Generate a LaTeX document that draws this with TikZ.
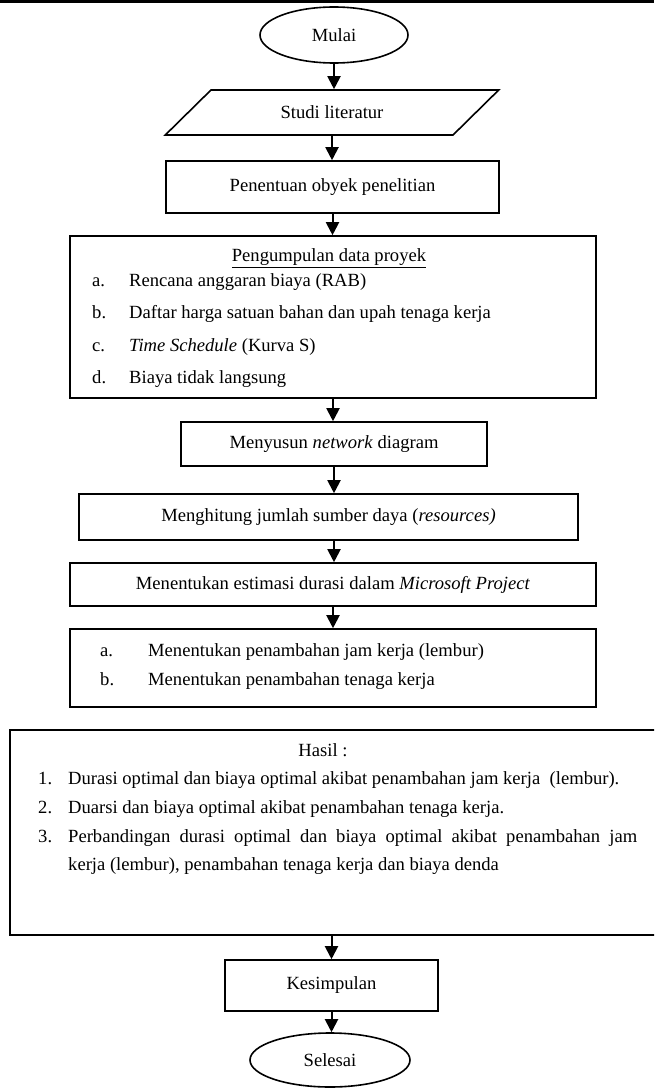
\documentclass[tikz,border=0pt]{standalone}
\usepackage{fontspec}
\setmainfont{Liberation Serif}
\usetikzlibrary{shapes.geometric,arrows.meta,positioning}

\tikzset{
    kotak/.style={draw, rectangle, line width=1.6pt, inner sep=0pt},
    lonjong/.style={draw, ellipse, line width=1.6pt, inner sep=0pt},
    jajar/.style={draw, trapezium, trapezium left angle=34, trapezium right angle=146,
        trapezium stretches=true, line width=1.6pt, inner sep=0pt},
    teks/.style={anchor=west, inner sep=0pt, text height=12pt, text depth=4pt},
    panah/.style={line width=2pt, -{Triangle[width=13pt,length=13pt]}}
}

\begin{document}
\begin{tikzpicture}[x=1pt, y=-1pt, font=\fontsize{18.6}{21}\selectfont]
        %BATAS
        \useasboundingbox (0,0) rectangle (654,1089);
        \clip (0,0) rectangle (654,1089);
        \fill[white] (0,0) rectangle (654,1089);

        %GARIS ATAS
        \fill[black] (0,0) rectangle (654,3.5);

        %MULAI
        \node[lonjong, minimum width=148pt, minimum height=56pt] (mulai) at (334,35) {Mulai};

        %STUDI LITERATUR
        \node[jajar, minimum width=334pt, minimum height=45pt] (studi) at (332,112.5) {Studi literatur};

        %PENENTUAN OBYEK
        \node[kotak, minimum width=333pt, minimum height=52pt] (obyek) at (332.5,187) {Penentuan obyek penelitian};

        %PENGUMPULAN DATA
        \node[kotak, minimum width=526pt, minimum height=162pt] (data) at (333,317) {};
        \node[inner sep=0pt] (judul) at (329,258) {\underline{Pengumpulan data proyek}};
        \node[teks] (da) at (92,282) {a.};
        \node[teks] (dat) at (129,282) {Rencana anggaran biaya (RAB)};
        \node[teks] (db) at (92,314) {b.};
        \node[teks] (dbt) at (129,314) {Daftar harga satuan bahan dan upah tenaga kerja};
        \node[teks] (dc) at (92,347) {c.};
        \node[teks] (dct) at (129,347) {\textit{Time Schedule} (Kurva S)};
        \node[teks] (dd) at (92,379) {d.};
        \node[teks] (ddt) at (129,379) {Biaya tidak langsung};

        %NETWORK
        \node[kotak, minimum width=306pt, minimum height=44pt] (network) at (334,444) {Menyusun \textit{network} diagram};

        %SUMBER DAYA
        \node[kotak, minimum width=499pt, minimum height=46pt] (sumber) at (328.5,517) {Menghitung jumlah sumber daya (\textit{resources)}};

        %ESTIMASI
        \node[kotak, minimum width=526pt, minimum height=43pt] (estimasi) at (333,584.5) {Menentukan estimasi durasi dalam \textit{Microsoft Project}};

        %PENAMBAHAN
        \node[kotak, minimum width=526pt, minimum height=78pt] (tambah) at (333,668) {};
        \node[teks] (ta) at (100,652) {a.};
        \node[teks] (tat) at (148,652) {Menentukan penambahan jam kerja (lembur)};
        \node[teks] (tb) at (100,681) {b.};
        \node[teks] (tbt) at (148,681) {Menentukan penambahan tenaga kerja};

        %HASIL
        \node[kotak, minimum width=650pt, minimum height=205pt] (hasil) at (335,832.5) {};
        \node[inner sep=0pt] (hjudul) at (323,750) {Hasil :};
        \node[teks] (h1) at (38,780) {1.};
        \node[teks] (h1t) at (68,780) {Durasi optimal dan biaya optimal akibat penambahan jam kerja~ (lembur).};
        \node[teks] (h2) at (38,809) {2.};
        \node[teks] (h2t) at (68,809) {Duarsi dan biaya optimal akibat penambahan tenaga kerja.};
        \node[teks] (h3) at (38,838) {3.};
        \node[teks] (h3t) at (68,838) {\makebox[569pt][s]{Perbandingan durasi optimal dan biaya optimal akibat penambahan jam}};
        \node[teks] (h3u) at (68,866) {kerja (lembur), penambahan tenaga kerja dan biaya denda};

        %KESIMPULAN
        \node[kotak, minimum width=213pt, minimum height=51pt] (simpul) at (331.5,985.5) {Kesimpulan};

        %SELESAI
        \node[lonjong, minimum width=160pt, minimum height=54pt] (selesai) at (330,1060) {Selesai};

        %PANAH
        \draw[panah] (mulai.south) -- (mulai.south |- studi.north);
        \draw[panah] (studi.south) -- (studi.south |- obyek.north);
        \draw[panah] (obyek.south) -- (obyek.south |- data.north);
        \draw[panah] (data.south) -- (data.south |- network.north);
        \draw[panah] (network.south) -- (network.south |- sumber.north);
        \draw[panah] (network.south |- sumber.south) -- (network.south |- estimasi.north);
        \draw[panah] (estimasi.south) -- (estimasi.south |- tambah.north);
        \draw[panah] (simpul.north |- hasil.south) -- (simpul.north);
        \draw[panah] (simpul.south) -- (simpul.south |- selesai.north);
\end{tikzpicture}
\end{document}
